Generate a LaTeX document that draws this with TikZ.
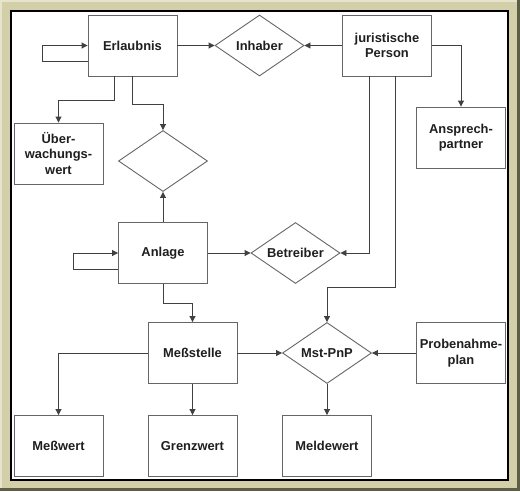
\documentclass[tikz,border=0pt]{standalone}
\usepackage{fontspec}
\setmainfont{Liberation Sans}
\newcommand{\boxfont}{\fontsize{12.9}{15.5}\selectfont\bfseries}
\usepackage{tikz}
\usetikzlibrary{
arrows.meta,
shapes.geometric
}
\definecolor{frame-khaki}{HTML}{D3D0A9}
\definecolor{frame-dark}{HTML}{5E5D45}
\definecolor{frame-light}{HTML}{E6E4CC}

\begin{document}
\begin{tikzpicture}[
        x = 1pt,
        y = -1pt,
        entity/.style={
          draw = black!60,
          line width = 0.9pt,
          fill = white,
          minimum width = 89pt,
          minimum height = 61pt,
          inner sep = 0pt,
          align = center,
        },
        relation/.style={
          diamond,
          shape aspect = 1.5,
          draw = black!60,
          line width = 0.9pt,
          fill = white,
          minimum width = 89pt,
          minimum height = 61pt,
          inner sep = 0pt,
        },
        link/.style={
          draw = black!75,
          line width = 0.9pt,
          -{Triangle[length=6pt, width=6pt]},
        },
        every node/.append style={
          font = \boxfont,
          text = black!88,
        },
        ]
        \useasboundingbox (0,0) rectangle (520,491);
        % frame
        \fill [frame-dark] (0,0) rectangle (520,491);
        \fill [frame-light] (0,0) rectangle (517,488);
        \fill [frame-khaki] (2,2) rectangle (517,488);
        \fill [black] (10,10) rectangle (509,481);
        \fill [white] (12,12) rectangle (507,479);

        % entities and relations
        \node [entity, name=node-erlaubnis] at (132.5,45.5) {Erlaubnis};
        \node [relation, name=node-inhaber] at (259.5,45.5) {Inhaber};
        \node [entity, name=node-person] at (387,45.5) {juristische\\Person};
        \node [entity, name=node-ansprech] at (461,137.5) {Ansprech-\\partner};
        \node [entity, name=node-ueberwachung] at (58.5,153.5) {Über-\\wachungs-\\wert};
        \node [relation, name=node-leer] at (163,161) {};
        \node [entity, name=node-anlage] at (163,253) {Anlage};
        \node [relation, name=node-betreiber] at (295.5,253) {Betreiber};
        \node [entity, name=node-messstelle] at (192.5,353) {Meßstelle};
        \node [relation, name=node-mstpnp] at (327,353) {Mst-PnP};
        \node [entity, name=node-probe] at (461,353) {Probenahme-\\plan};
        \node [entity, name=node-messwert] at (58.5,446) {Meßwert};
        \node [entity, name=node-grenzwert] at (192.5,446) {Grenzwert};
        \node [entity, name=node-meldewert] at (327,446) {Meldewert};

        % connectors
        \draw [link] ([yshift=-15.5pt]node-erlaubnis.west) -- ++(-45,0)
          |- (node-erlaubnis.west);
        \draw [link] (node-erlaubnis.east) -- (node-inhaber.west);
        \draw [link] (node-person.west) -- (node-inhaber.east);
        \draw [link] (node-person.east) -| (node-ansprech.north);
        \draw [link] ([xshift=-18.5pt]node-erlaubnis.south) -- ++(0,24)
          -| (node-ueberwachung.north);
        \draw [link] (node-erlaubnis.south) -- ++(0,28) -| (node-leer.north);
        \draw [link] (node-anlage.north) -- (node-leer.south);
        \draw [link] ([yshift=-16pt]node-anlage.west) -- ++(-45,0)
          |- (node-anlage.west);
        \draw [link] (node-anlage.east) -- (node-betreiber.west);
        \draw [link] ([xshift=-18pt]node-person.south) |- (node-betreiber.east);
        \draw [link] ([xshift=8pt]node-person.south) -- ++(0,211)
          -| (node-mstpnp.north);
        \draw [link] (node-anlage.south) -- ++(0,19) -| (node-messstelle.north);
        \draw [link] (node-messstelle.east) -- (node-mstpnp.west);
        \draw [link] (node-probe.west) -- (node-mstpnp.east);
        \draw [link] (node-messstelle.west) -| (node-messwert.north);
        \draw [link] (node-messstelle.south) -- (node-grenzwert.north);
        \draw [link] (node-mstpnp.south) -- (node-meldewert.north);
      \end{tikzpicture}
\end{document}
